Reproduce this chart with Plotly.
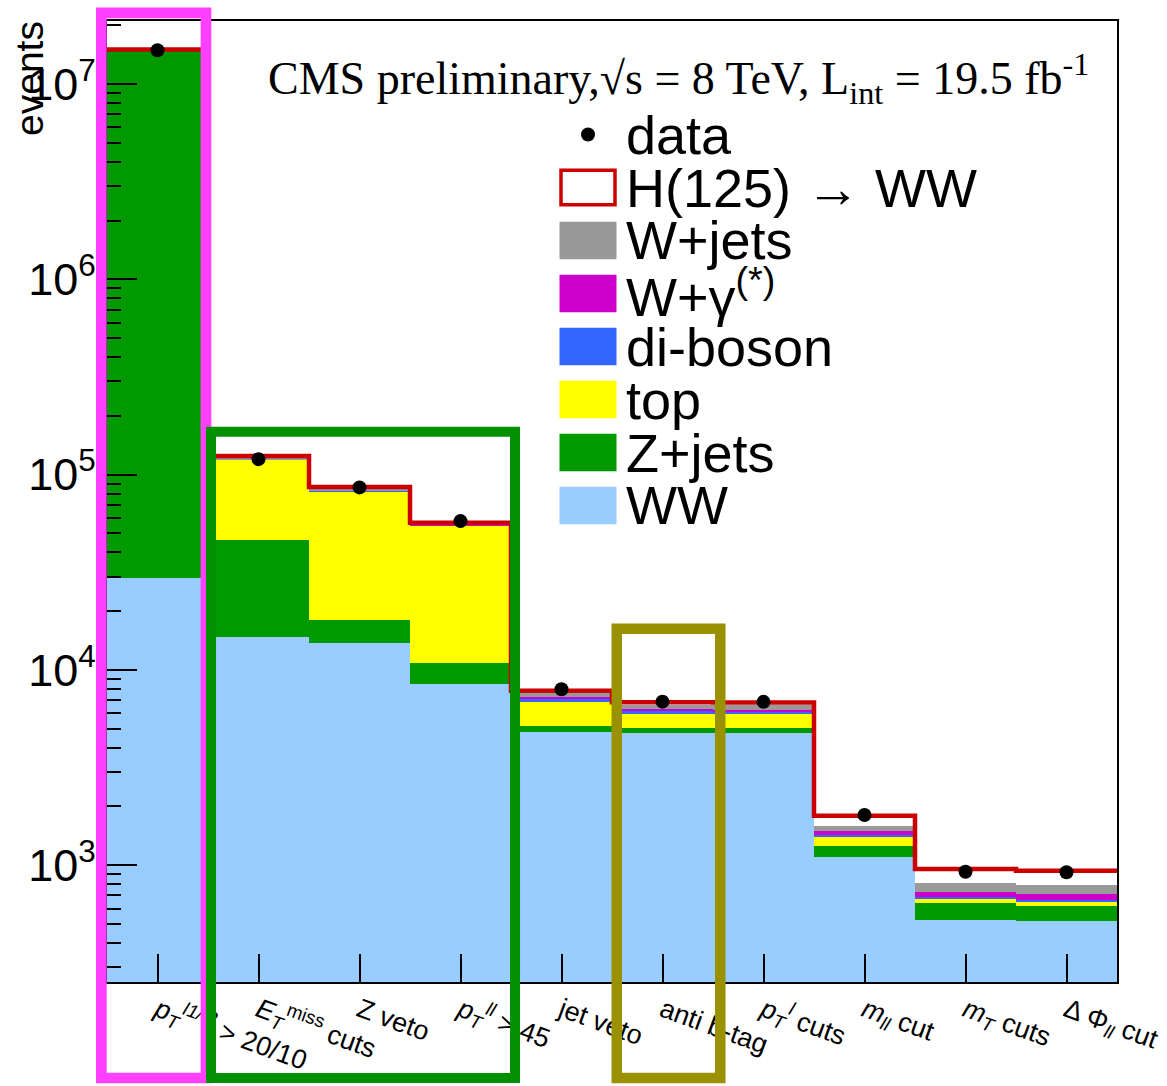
import plotly.graph_objects as go

# ---------------- data ----------------
categories = [
    "<i>p</i><sub><i>T</i></sub><sup><i>l1/l2</i></sup> > 20/10",
    "<i>E</i><sub><i>T</i></sub><sup>miss</sup> cuts",
    "Z veto",
    "<i>p</i><sub><i>T</i></sub><sup><i>ll</i></sup> > 45",
    "jet veto",
    "anti b-tag",
    "<i>p</i><sub><i>T</i></sub><sup><i>l</i></sup> cuts",
    "<i>m</i><sub><i>ll</i></sub> cut",
    "<i>m</i><sub><i>T</i></sub> cuts",
    "Δ Φ<sub><i>ll</i></sub> cut",
]
ww      = [29400, 14800, 13700, 8440, 4830, 4770, 4760, 1098, 524, 520]
zjets   = [14770000, 31500, 4300, 2360, 350, 290, 285, 156, 114, 100]
top     = [150000, 72500, 63700, 43800, 1690, 890, 885, 136, 31, 33]
diboson = [10000, 900, 800, 500, 200, 210, 208, 43, 16, 10]
wgamma  = [3000, 400, 350, 200, 170, 130, 130, 59, 44, 49]
wjets   = [40000, 800, 700, 400, 350, 320, 318, 96, 79, 80]
higgs   = [700, 3500, 2850, 1000, 240, 210, 225, 205, 148, 145]
data    = [14900000, 120000, 86000, 57800, 7960, 6880, 6860, 1807, 926, 920]

legend_labels = ["data", "H(125) → WW", "W+jets", "W+γ<sup>(*)</sup>",
                 "di-boson", "top", "Z+jets", "WW"]

# ---------------- styles ----------------
C_WW, C_Z, C_TOP = "#99CCFF", "#009900", "#FFFF00"
C_VV, C_WG, C_WJ = "#3366FF", "#CC00CC", "#999999"
C_H = "#CC0000"

W, H = 1167, 1086
ML, MR, MT, MB = 107, 50, 21, 104
PW, PH = W - ML - MR, H - MT - MB
XMIN, XMAX = -0.5, 9.5


def px2x(px):
    return (px - ML) / PW


def py2y(py):
    return (H - MB - py) / PH


def d2x(xd):
    return (xd - XMIN) / (XMAX - XMIN)


pos = list(range(len(categories)))
stack = [ww, zjets, top, diboson, wgamma, wjets]
colors = [C_WW, C_Z, C_TOP, C_VV, C_WG, C_WJ]
total = [sum(s[i] for s in stack) + higgs[i] for i in pos]

fig = go.Figure()
for s, c in zip(stack, colors):
    fig.add_trace(go.Bar(x=pos, y=s, width=1, marker=dict(color=c, line=dict(width=0)),
                         showlegend=False, hoverinfo="skip"))

edges = [p - 0.5 for p in pos] + [pos[-1] + 0.5]
fig.add_trace(go.Scatter(x=edges, y=total + [total[-1]], mode="lines",
                         line=dict(color=C_H, width=4.5, shape="hv"),
                         showlegend=False, hoverinfo="skip"))
fig.add_trace(go.Scatter(x=pos, y=data, mode="markers",
                         marker=dict(color="black", size=14), showlegend=False))

shapes = []
annotations = []

# legend (drawn manually)
lx0, lx1 = 559.5, 616.5
ly0, lstep, lh = 134.5, 53.0, 37.5
legend_fill = [None, None, C_WJ, C_WG, C_VV, C_TOP, C_Z, C_WW]
for i, lab in enumerate(legend_labels):
    yc = ly0 + i * lstep
    if i == 0:
        shapes.append(dict(type="circle", xref="paper", yref="paper",
                           x0=px2x(588 - 7), x1=px2x(588 + 7),
                           y0=py2y(yc + 7), y1=py2y(yc - 7),
                           fillcolor="black", line=dict(width=0)))
    elif i == 1:
        shapes.append(dict(type="rect", xref="paper", yref="paper",
                           x0=px2x(lx0 + 1.5), x1=px2x(lx1 - 1.5),
                           y0=py2y(yc + lh / 2 - 1.5), y1=py2y(yc - lh / 2 + 1.5),
                           fillcolor="white", line=dict(color=C_H, width=3.5)))
    else:
        shapes.append(dict(type="rect", xref="paper", yref="paper",
                           x0=px2x(lx0), x1=px2x(lx1),
                           y0=py2y(yc + lh / 2), y1=py2y(yc - lh / 2),
                           fillcolor=legend_fill[i], line=dict(width=0)))
    annotations.append(dict(text=lab, xref="paper", yref="paper",
                            x=px2x(624), y=py2y(yc), xanchor="left", yanchor="middle",
                            showarrow=False,
                            font=dict(family="Liberation Sans", size=54, color="black")))

# header text
annotations.append(dict(
    text="CMS preliminary,√s = 8 TeV, L<sub>int</sub> = 19.5 fb<sup>-1</sup>",
    xref="paper", yref="paper", x=px2x(266), y=py2y(79),
    xanchor="left", yanchor="middle", showarrow=False,
    font=dict(family="Liberation Serif", size=46, color="black")))

# y axis title
annotations.append(dict(text="events", xref="paper", yref="paper",
                        x=px2x(30), y=py2y(79), textangle=-90,
                        xanchor="center", yanchor="middle", showarrow=False,
                        font=dict(family="Liberation Sans", size=39, color="black")))

# highlight boxes (x in bin units, y in paper)
boxes = [
    (-0.556, 0.48, 12.8, "#FF40FF", 10.7),
    (0.53, 3.54, 431.7, "#009000", 10.0),
    (4.547, 5.572, 628.7, "#999100", 10.5),
]
for x0, x1, ytop, col, lw in boxes:
    shapes.append(dict(type="rect", xref="paper", yref="paper", layer="above",
                       x0=d2x(x0), x1=d2x(x1), y0=py2y(1078), y1=py2y(ytop),
                       line=dict(color=col, width=lw), fillcolor="rgba(0,0,0,0)"))

fig.update_layout(
    width=W, height=H,
    margin=dict(l=ML, r=MR, t=MT, b=MB, autoexpand=False),
    paper_bgcolor="white", plot_bgcolor="white",
    barmode="stack", bargap=0,
    shapes=shapes, annotations=annotations,
    showlegend=False,
    font=dict(family="Liberation Sans", color="black"),
    xaxis=dict(range=[XMIN, XMAX], tickvals=pos, ticktext=categories,
               ticks="inside", ticklen=28, tickwidth=2, tickcolor="black",
               showline=True, linewidth=2, linecolor="black", mirror=True,
               showgrid=False, zeroline=False, tickangle=20,
               tickfont=dict(family="Liberation Sans", size=27, color="black")),
    yaxis=dict(type="log", range=[2.402, 7.3226], dtick=1, exponentformat="power",
               ticks="inside", ticklen=30, tickwidth=2, tickcolor="black",
               minor=dict(ticks="inside", ticklen=14, tickwidth=2, tickcolor="black",
                          dtick="D1", showgrid=False),
               showline=True, linewidth=2, linecolor="black", mirror=True,
               showgrid=False, zeroline=False, ticklabelstandoff=2,
               tickfont=dict(family="Liberation Sans", size=36, color="black")),
)

fig.write_html("out.html")
